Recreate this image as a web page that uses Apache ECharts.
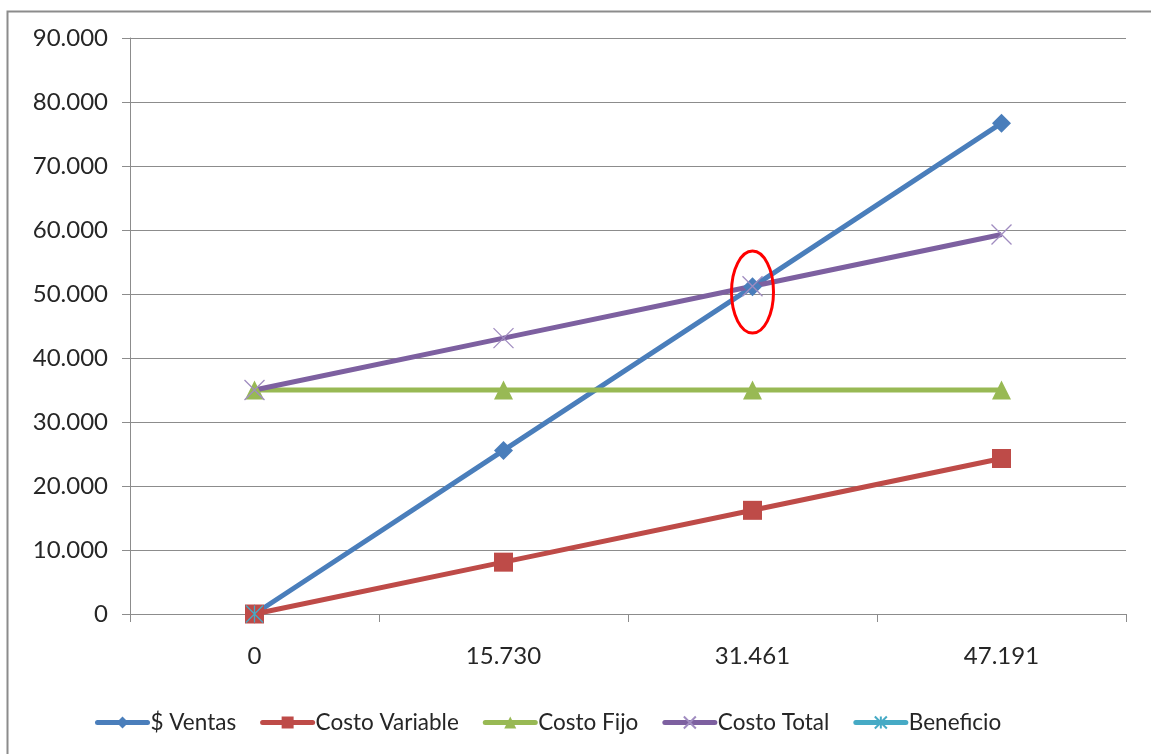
<!DOCTYPE html>
<html>
<head>
<meta charset="utf-8">
<style>
  html, body { margin: 0; padding: 0; background: #ffffff; }
  #chart { width: 1151px; height: 754px; }
</style>
<script src="https://cdn.jsdelivr.net/npm/echarts@6/dist/echarts.min.js"></script>
</head>
<body>
<div id="chart"></div>
<script>
// Units sold (break-even analysis)
const categories = ['0', '15.730', '31.461', '47.191'];

// Series values
const ventas = [0, 25560, 51120, 76690];
const costoVariable = [0, 8100, 16200, 24300];
const costoFijo = [35000, 35000, 35000, 35000];
const costoTotal = [35000, 43100, 51200, 59300];
const beneficio = [0, null, null, null];

const seriesNames = ['$ Ventas', 'Costo Variable', 'Costo Fijo', 'Costo Total', 'Beneficio'];

// Break-even highlight: category and value of the ellipse centre
const breakEvenMark = ['31.461', 50300];

const FONT = 'Lato, "Open Sans", sans-serif';
const TEXT = '#262626';
const GRID_GRAY = '#8c8c8c';

function miles(v) {
  return String(Math.round(v)).replace(/\B(?=(\d{3})+(?!\d))/g, '.');
}

const crossPath = 'path://M0,0L10,10M10,0L0,10';
const starPath = 'path://M5,0L5,10M0,0L10,10M10,0L0,10';

const chart = echarts.init(document.getElementById('chart'), null, { renderer: 'canvas' });

function lineSeries(name, data, lineColor, symbol, symbolSize, itemStyle) {
  return {
    name: name,
    type: 'line',
    data: data,
    symbol: symbol,
    symbolSize: symbolSize,
    showAllSymbol: true,
    connectNulls: false,
    lineStyle: { color: lineColor, width: 5 },
    itemStyle: itemStyle,
    emphasis: { disabled: true },
    animation: false
  };
}

chart.setOption({
  backgroundColor: '#ffffff',
  animation: false,
  textStyle: { fontFamily: FONT, color: TEXT },
  grid: { left: 130, right: 25, top: 38, bottom: 140, containLabel: false },
  legend: {
    data: seriesNames,
    left: 95,
    top: 711,
    padding: 0,
    itemWidth: 50,
    itemHeight: 15,
    itemGap: 24,
    lineStyle: { width: 5, cap: 'round' },
    textStyle: { fontFamily: FONT, fontSize: 22.5, color: TEXT, padding: [0, 0, 0, -2] }
  },
  xAxis: {
    type: 'category',
    data: categories,
    boundaryGap: true,
    axisLine: { show: true, lineStyle: { color: GRID_GRAY, width: 1 } },
    axisTick: { show: true, length: 8, alignWithLabel: false, lineStyle: { color: GRID_GRAY } },
    axisLabel: { fontFamily: FONT, fontSize: 24, color: TEXT, margin: 30 },
    splitLine: { show: false }
  },
  yAxis: {
    type: 'value',
    min: 0,
    max: 90000,
    interval: 10000,
    axisLine: { show: true, lineStyle: { color: GRID_GRAY, width: 1 } },
    axisTick: { show: true, length: 8, lineStyle: { color: GRID_GRAY } },
    axisLabel: { fontFamily: FONT, fontSize: 24, color: TEXT, margin: 22, formatter: miles },
    splitLine: { show: true, lineStyle: { color: GRID_GRAY, width: 1 } }
  },
  series: [
    lineSeries(seriesNames[0], ventas, '#4a7ebb', 'diamond', 19, { color: '#4a7ebb' }),
    lineSeries(seriesNames[1], costoVariable, '#be4b48', 'rect', 19, { color: '#be4b48' }),
    lineSeries(seriesNames[2], costoFijo, '#98b954', 'triangle', 19, { color: '#98b954' }),
    lineSeries(seriesNames[3], costoTotal, '#7d60a0', crossPath, 20,
      { color: 'rgba(0,0,0,0)', borderColor: '#a08cc0', borderWidth: 1.3 }),
    lineSeries(seriesNames[4], beneficio, '#46aac5', starPath, 17,
      { color: 'rgba(0,0,0,0)', borderColor: '#46aac5', borderWidth: 1.3 })
  ]
});

// Red ellipse around the break-even point
const c = chart.convertToPixel({ gridIndex: 0 }, breakEvenMark);
chart.setOption({
  graphic: [
    {
      type: 'rect',
      left: 5, top: 9,
      shape: { x: 0, y: 0, width: 1300, height: 900 },
      style: { fill: 'none', stroke: '#8c8c8c', lineWidth: 2 },
      silent: true, z: 100
    },
    {
      type: 'ellipse',
      shape: { cx: c[0], cy: c[1], rx: 21, ry: 41 },
      style: { fill: 'none', stroke: '#ff0000', lineWidth: 3 },
      silent: true, z: 100
    }
  ]
});
</script>
</body>
</html>
